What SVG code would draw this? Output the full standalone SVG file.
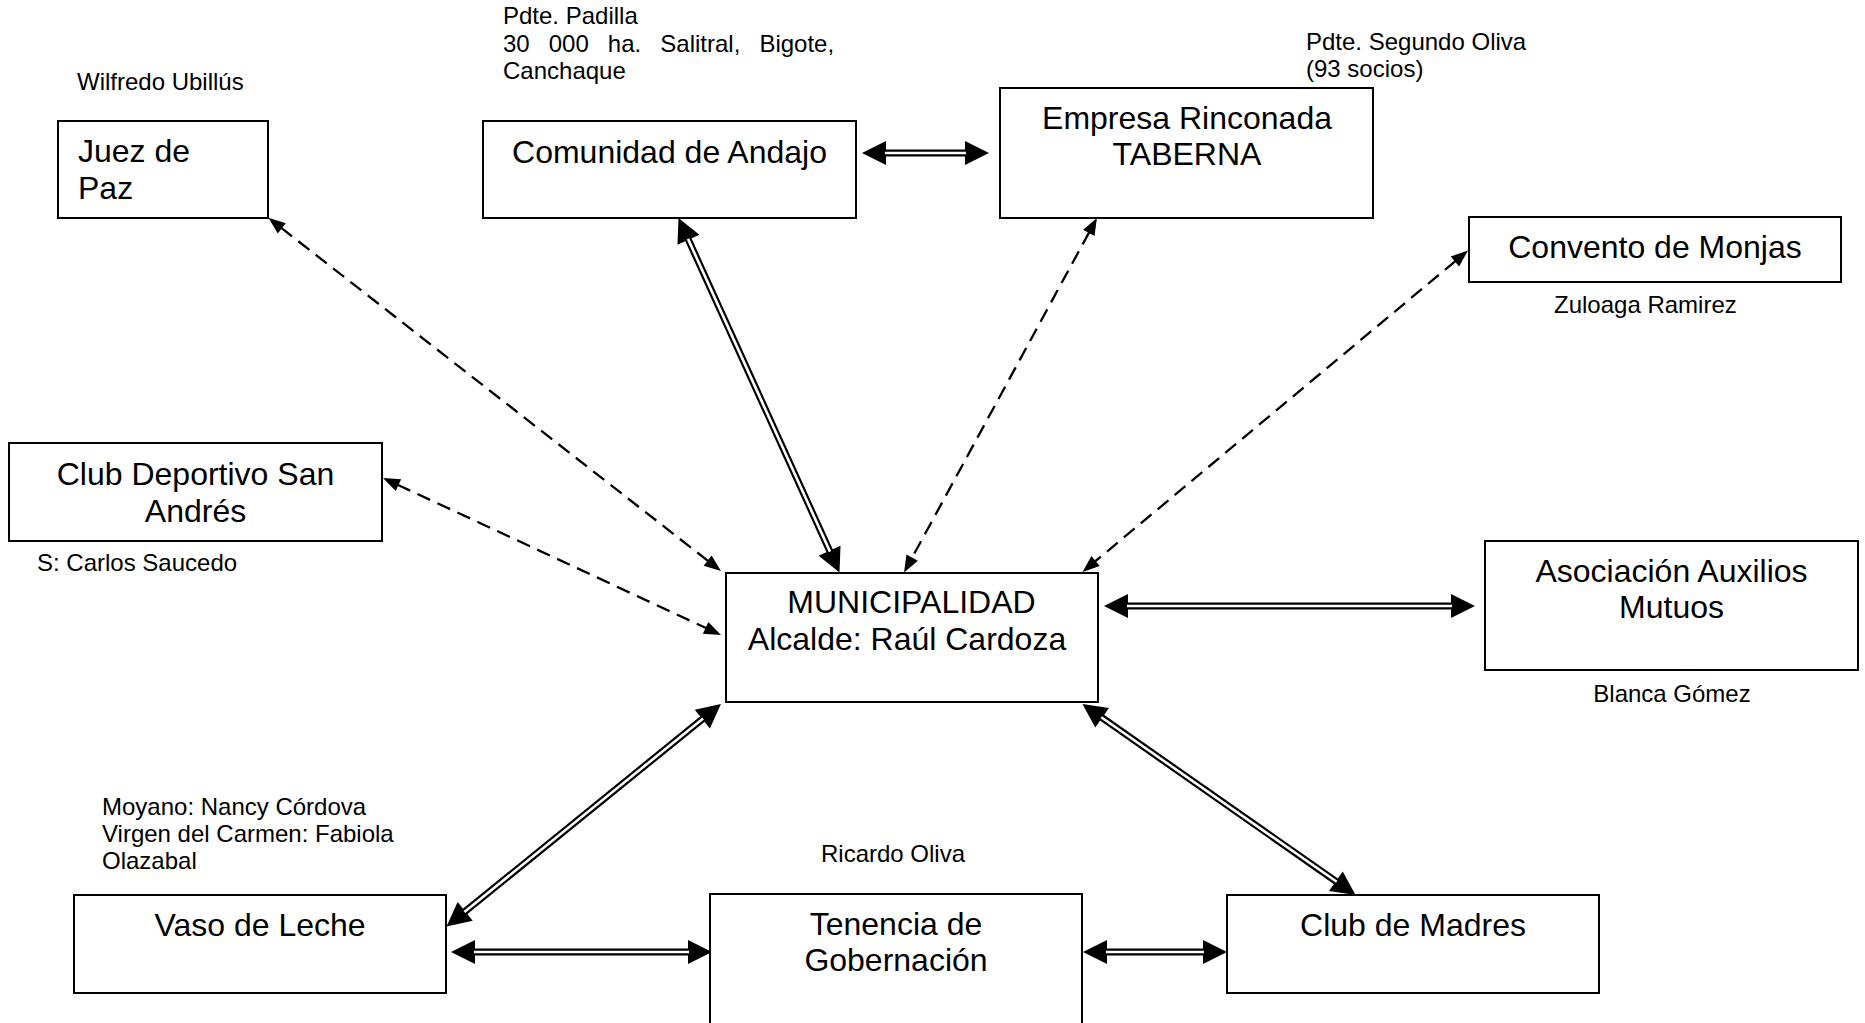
<svg xmlns="http://www.w3.org/2000/svg" width="1865" height="1023" viewBox="0 0 1865 1023">
<style>
.box{fill:#fff;stroke:#000;stroke-width:2}
.big{font-family:"Liberation Sans",Arial,sans-serif;font-size:32px;fill:#000}
.sm{font-family:"Liberation Sans",Arial,sans-serif;font-size:24px;fill:#000}
.c{text-anchor:middle}
.dbl{stroke:#000;stroke-width:7;fill:none;marker-start:url(#bigA);marker-end:url(#bigA)}
.dblw{stroke:#fff;stroke-width:2.6;fill:none}
.dash{stroke:#000;stroke-width:2.3;fill:none;stroke-dasharray:14 8;marker-start:url(#smA);marker-end:url(#smA)}
</style>
<defs>
<marker id="bigA" markerUnits="userSpaceOnUse" markerWidth="30" markerHeight="30" refX="1" refY="12" orient="auto-start-reverse" overflow="visible"><path d="M0,0 L24,12 L0,24 z" fill="#000"/></marker>
<marker id="smA" markerUnits="userSpaceOnUse" markerWidth="20" markerHeight="20" refX="1" refY="6.5" orient="auto-start-reverse" overflow="visible"><path d="M0,0 L17,6.5 L0,13 z" fill="#000"/></marker>
</defs>
<rect width="1865" height="1023" fill="#fff"/>

<g id="connectors">
<line class="dbl" x1="885" y1="153" x2="966" y2="153"/>
<line class="dblw" x1="885" y1="153" x2="966" y2="153"/>
<line class="dbl" x1="1127" y1="606" x2="1452" y2="606"/>
<line class="dblw" x1="1127" y1="606" x2="1452" y2="606"/>
<line class="dbl" x1="474" y1="952" x2="689" y2="952"/>
<line class="dblw" x1="474" y1="952" x2="689" y2="952"/>
<line class="dbl" x1="1106" y1="952" x2="1204" y2="952"/>
<line class="dblw" x1="1106" y1="952" x2="1204" y2="952"/>
<line class="dbl" x1="688" y1="238.9" x2="830" y2="551.6"/>
<line class="dblw" x1="688" y1="238.9" x2="830" y2="551.6"/>
<line class="dbl" x1="703.1" y1="718.5" x2="464.4" y2="912"/>
<line class="dblw" x1="703.1" y1="718.5" x2="464.4" y2="912"/>
<line class="dbl" x1="1101.3" y1="717.2" x2="1336.7" y2="881.8"/>
<line class="dblw" x1="1101.3" y1="717.2" x2="1336.7" y2="881.8"/>
<line class="dash" x1="281" y1="227.7" x2="708.4" y2="561.2"/>
<line class="dash" x1="397.5" y1="484.7" x2="706.5" y2="628.3"/>
<line class="dash" x1="1089.3" y1="232.1" x2="911.7" y2="558.4"/>
<line class="dash" x1="1455.7" y1="260.8" x2="1094.8" y2="561.7"/>
</g>

<g id="juez">
<rect class="box" x="58" y="121" width="210" height="97"/>
<text class="big" x="78" y="162">Juez de</text>
<text class="big" x="78" y="199">Paz</text>
</g>
<text id="lbl-juez" class="sm" x="77" y="90">Wilfredo Ubillús</text>

<g id="comunidad">
<rect class="box" x="483" y="121" width="373" height="97"/>
<text class="big c" x="669.5" y="163">Comunidad de Andajo</text>
</g>
<g id="lbl-comunidad" class="sm">
<text x="503" y="24">Pdte. Padilla</text>
<text x="503" y="51.5" word-spacing="12.4">30 000 ha. Salitral, Bigote,</text>
<text x="503" y="79">Canchaque</text>
</g>

<g id="empresa">
<rect class="box" x="1000" y="88" width="373" height="130"/>
<text class="big c" x="1187" y="129">Empresa Rinconada</text>
<text class="big c" x="1187" y="165">TABERNA</text>
</g>
<g id="lbl-empresa" class="sm">
<text x="1306" y="50">Pdte. Segundo Oliva</text>
<text x="1306" y="77">(93 socios)</text>
</g>

<g id="convento">
<rect class="box" x="1469" y="217" width="372" height="65"/>
<text class="big c" x="1655" y="258">Convento de Monjas</text>
</g>
<text id="lbl-convento" class="sm" x="1554" y="313">Zuloaga Ramirez</text>

<g id="club-deportivo">
<rect class="box" x="9" y="443" width="373" height="98"/>
<text class="big c" x="195.5" y="485">Club Deportivo San</text>
<text class="big c" x="195.5" y="522">Andrés</text>
</g>
<text id="lbl-club-deportivo" class="sm" x="37" y="571">S: Carlos Saucedo</text>

<g id="municipalidad">
<rect class="box" x="726" y="573" width="372" height="129"/>
<text class="big c" x="911.5" y="613">MUNICIPALIDAD</text>
<text class="big c" x="907" y="650">Alcalde: Raúl Cardoza</text>
</g>

<g id="asociacion">
<rect class="box" x="1485" y="541" width="373" height="129"/>
<text class="big c" x="1671.5" y="582">Asociación Auxilios</text>
<text class="big c" x="1671.5" y="618">Mutuos</text>
</g>
<text id="lbl-asociacion" class="sm c" x="1672" y="702">Blanca Gómez</text>

<g id="vaso">
<rect class="box" x="74" y="895" width="372" height="98"/>
<text class="big c" x="260" y="936">Vaso de Leche</text>
</g>
<g id="lbl-vaso" class="sm">
<text x="102" y="815">Moyano: Nancy Córdova</text>
<text x="102" y="842">Virgen del Carmen: Fabiola</text>
<text x="102" y="869">Olazabal</text>
</g>

<g id="tenencia">
<rect class="box" x="710" y="894" width="372" height="150"/>
<text class="big c" x="896" y="935">Tenencia de</text>
<text class="big c" x="896" y="971">Gobernación</text>
</g>
<text id="lbl-tenencia" class="sm" x="821" y="862">Ricardo Oliva</text>

<g id="club-madres">
<rect class="box" x="1227" y="895" width="372" height="98"/>
<text class="big c" x="1413" y="936">Club de Madres</text>
</g>
</svg>
